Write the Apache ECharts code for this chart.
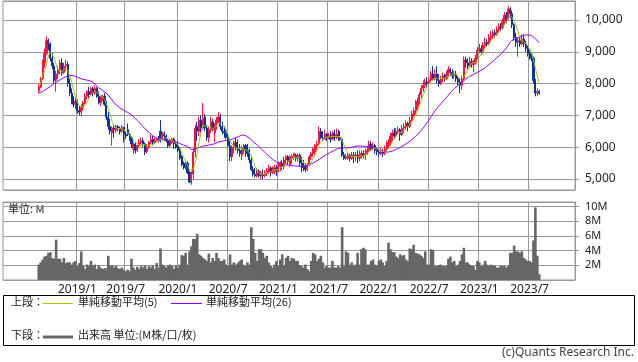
<!DOCTYPE html>
<html><head><meta charset="utf-8">
<script src="https://cdn.jsdelivr.net/npm/echarts@6/dist/echarts.min.js"></script>
<style>html,body{margin:0;padding:0;background:#fff}#c{width:638px;height:362px}</style>
</head><body><div id="c"></div>
<script>
// weekly bars, first week (Monday) and padding of empty weeks on both sides of the axis
const firstWeek = '2018-08-20';
const padBefore = 18, padAfter = 18;
const tickLabels = ['2019/1','2019/7','2020/1','2020/7','2021/1','2021/7','2022/1','2022/7','2023/1','2023/7'];

const opens = [
7780,7900,8150,8650,8950,9350,9250,8800,8550,8100,
8300,8450,8650,8350,8550,8600,8000,7700,7450,7350,
7450,7150,7100,7250,7400,7600,7750,7650,7850,7700,
7850,7600,7400,7550,7600,7350,6950,6650,6450,6600,
6550,6650,6600,6500,6620,6400,6550,6400,6300,5950,
6100,5900,6050,6150,6200,6100,5850,6000,6150,6250,
6150,6200,6250,6500,6250,6420,6350,6200,6050,6150,
6250,6100,6050,5950,5700,5500,5350,5500,5200,4950,
5150,5850,6650,6500,6850,6600,6950,6600,6300,6550,
6800,6450,6700,6850,6950,6650,6500,6450,6300,6050,
5700,6000,6150,5950,5900,5750,5950,6050,5900,5800,
5600,5300,5150,5100,5250,5100,5150,5100,5200,5200,
5350,5200,5300,5350,5250,5400,5500,5400,5600,5700,
5450,5650,5700,5750,5650,5750,5500,5400,5350,5300,
5450,5700,5800,5850,6050,6100,6500,6300,6250,6400,
6300,6350,6250,6450,6300,6400,6300,6250,5750,5650,
5650,5750,5650,5750,5700,5750,5650,5700,5800,5750,
5800,5900,6100,5950,6050,5900,5850,5800,5850,5800,
5950,6050,6150,6350,6450,6350,6500,6550,6400,6600,
6650,6750,6650,6850,7000,7150,7300,7450,7650,7850,
7950,8050,8000,8100,8300,8150,8300,8100,8000,8150,
8250,8150,8300,8450,8350,8250,8300,8150,8050,7950,
8150,8750,8650,8550,8700,8600,8650,8800,9050,9100,
9000,9200,9300,9250,9450,9500,9600,9550,9700,9800,
9750,9950,10150,10050,10350,10200,9850,9450,9300,9350,
9250,9400,9250,9100,8950,8850,8800,8100,7700,7750];
const closes = [
7900,8150,8650,8950,9350,9250,8800,8550,8100,8300,
8450,8650,8350,8550,8600,8000,7700,7450,7350,7450,
7150,7100,7250,7400,7600,7750,7650,7850,7700,7850,
7600,7400,7550,7600,7350,6950,6650,6500,6600,6550,
6650,6600,6500,6620,6400,6350,6400,6300,6100,6100,
5900,6050,6150,6200,6100,5850,6000,6150,6250,6150,
6200,6250,6200,6300,6420,6350,6200,6050,6200,6250,
6100,6000,5900,5650,5450,5350,5500,5200,4900,5150,
5850,6600,6500,6850,6600,6900,6600,6300,6550,6800,
6550,6700,6850,6950,6650,6500,6450,6300,6050,5700,
6000,6150,5950,5900,5800,5950,6050,5900,5800,5600,
5300,5150,5100,5250,5100,5200,5100,5200,5250,5350,
5200,5300,5350,5250,5400,5500,5400,5600,5700,5550,
5700,5720,5800,5650,5750,5500,5400,5350,5300,5450,
5700,5800,5950,6050,6100,6500,6300,6250,6400,6300,
6350,6250,6400,6300,6400,6300,6250,5750,5650,5700,
5750,5650,5750,5700,5750,5650,5700,5800,5750,5800,
5900,6100,5950,6050,5900,5850,5800,5850,5800,5950,
6050,6150,6350,6450,6350,6500,6550,6400,6600,6650,
6750,6650,6850,7050,7150,7300,7450,7650,7850,7950,
8050,8000,8100,8300,8150,8300,8100,8000,8150,8250,
8150,8300,8450,8350,8250,8300,8150,8050,7950,8150,
8750,8650,8550,8700,8600,8650,8800,9050,9100,9000,
9200,9300,9250,9450,9500,9600,9550,9700,9800,9750,
9950,10150,10050,10350,10200,9850,9450,9300,9350,9250,
9400,9250,9100,8950,8850,8800,8100,7700,7750,7700];
const lows = [
7700,7850,8100,8500,8900,9050,8700,8450,8000,7750,
8150,8300,8250,8300,8400,7900,7600,7350,7250,7200,
7050,7000,6980,7150,7350,7500,7550,7600,7600,7650,
7550,7350,7300,7450,7300,6850,6550,6400,6050,6300,
6450,6500,6400,6450,6150,6250,6350,6200,5980,5780,
5800,5850,6000,6050,6000,5750,5800,5950,6100,6050,
6100,6150,6150,6150,6200,6200,6150,5980,6000,6100,
5950,5950,5850,5600,5400,5300,5300,5150,4870,4820,
5000,5700,6200,6350,6450,6550,6500,6200,6150,6450,
6500,6150,6550,6750,6550,6400,6300,6250,6000,5560,
5560,5800,5900,5800,5700,5600,5800,5700,5700,5500,
5250,5080,5050,5050,5050,5000,4980,5050,5100,5150,
5080,5150,5150,5100,5200,5250,5300,5300,5450,5450,
5380,5480,5600,5550,5550,5400,5220,5250,5220,5250,
5400,5600,5700,5750,5850,6050,6250,6200,6250,6200,
6250,6150,6250,6200,6250,6200,6200,5700,5600,5600,
5600,5550,5600,5500,5550,5500,5550,5650,5650,5600,
5750,5850,5900,5900,5800,5750,5700,5750,5700,5750,
5900,5950,6050,6200,6250,6300,6400,6200,6350,6450,
6550,6500,6600,6800,6950,7050,7150,7350,7550,7750,
7850,7900,7950,8050,8100,8100,8000,7900,7950,8050,
8050,8100,8200,8250,8150,8150,8050,7950,7700,7800,
8100,8500,8450,8500,8500,8350,8600,8750,8950,8900,
8950,9100,9150,9200,9350,9400,9450,9500,9600,9650,
9700,9850,9900,10000,10050,9750,9350,9150,8850,9150,
9200,9150,9000,8850,8750,8700,8000,7600,7600,7650];
const highs = [
7980,8200,8750,9100,9480,9420,9300,8950,8650,8400,
8550,8750,8800,8650,8750,8700,8150,7850,7600,7550,
7500,7300,7350,7450,7700,7800,7900,7900,7900,7950,
7900,7750,7600,7650,7700,7450,7100,6900,6650,6700,
6700,6700,6650,6700,6650,6500,6750,6450,6350,6150,
6150,6100,6250,6300,6300,6150,6100,6200,6400,6350,
6300,6300,6350,6850,6480,6500,6400,6250,6250,6300,
6300,6200,6200,6000,5750,5550,5550,5550,5250,5250,
5950,6700,6800,6950,7000,7390,7050,6700,6650,6950,
6900,6750,6950,7100,7050,6800,6650,6550,6450,6200,
6050,6200,6300,6250,6100,6050,6100,6100,6100,5950,
5700,5400,5350,5350,5300,5250,5300,5280,5350,5450,
5400,5400,5450,5450,5500,5550,5600,5700,5750,5750,
5750,5780,5820,5800,5800,5800,5700,5600,5500,5500,
5750,5850,6000,6100,6200,6650,6600,6500,6550,6450,
6450,6500,6500,6550,6580,6550,6500,6300,5850,5800,
5800,5800,5850,5850,5850,5900,5900,5900,5900,5950,
6050,6200,6200,6150,6100,6000,5950,6000,5950,6050,
6200,6250,6450,6550,6600,6600,6650,6600,6700,6750,
6850,6800,6950,7150,7250,7480,7550,7750,7950,8100,
8150,8200,8200,8400,8550,8450,8550,8300,8250,8350,
8300,8400,8550,8500,8450,8400,8400,8250,8150,8250,
8850,8850,8800,8850,8800,8750,8900,9150,9250,9200,
9300,9450,9400,9550,9650,9700,9700,9800,9900,9900,
10050,10250,10250,10440,10400,10300,9900,9600,9450,9500,
9550,9550,9350,9200,9050,9000,8850,8150,7850,7800];
// volume in millions
const volumes = [
2.1,2.4,2.8,3.2,3.3,3.7,3.8,3.0,2.9,5.5,
2.9,2.9,2.4,3.0,2.3,2.4,2.4,2.1,2.4,2.6,
1.9,2.3,3.9,2.0,1.5,2.1,1.9,2.6,1.9,2.1,
1.5,2.0,1.7,1.5,1.6,1.6,3.3,1.9,2.0,1.7,
1.9,1.6,1.5,1.7,1.4,1.2,1.4,1.2,2.9,1.7,
1.4,1.8,1.5,1.9,1.7,2.0,1.5,1.9,1.7,2.0,
1.5,2.3,1.7,4.3,2.1,1.9,1.7,2.0,2.1,1.9,
1.5,2.0,1.7,2.1,3.4,3.3,3.7,2.1,3.9,4.6,
5.6,5.6,6.3,3.5,3.3,3.0,2.8,2.6,3.6,2.4,
3.0,2.6,3.7,3.0,2.6,2.6,2.8,2.1,1.9,3.5,
2.1,2.4,2.1,2.3,2.6,2.8,2.1,1.9,2.4,2.1,
7.2,5.6,3.7,2.6,4.2,4.2,3.7,3.0,3.3,2.4,
1.9,1.7,2.1,2.6,1.9,2.8,3.5,2.0,3.0,3.3,
2.6,3.0,2.9,2.6,2.6,2.0,1.9,1.7,2.1,1.5,
1.2,2.6,3.7,3.5,2.6,2.9,3.3,2.4,1.7,1.9,
1.7,1.7,2.6,1.7,1.7,1.9,1.7,7.2,1.9,3.9,
3.7,2.1,2.4,1.9,2.1,3.7,2.1,4.2,4.4,4.2,
2.1,2.1,2.6,2.8,2.1,1.9,2.6,2.8,2.4,1.9,
2.6,5.1,4.2,3.8,3.8,3.2,3.0,3.5,3.3,3.4,
2.8,2.6,4.3,4.2,4.8,3.7,3.6,3.5,3.3,3.0,
3.9,2.1,2.1,4.2,4.1,1.9,1.9,2.0,2.1,1.9,
1.9,1.9,2.9,3.2,2.4,2.6,1.9,2.1,2.6,3.5,
4.4,2.4,2.4,2.1,1.9,1.9,1.4,2.6,2.4,1.9,
2.1,2.6,2.1,1.9,2.1,1.9,2.0,1.7,1.7,1.9,
1.9,1.9,1.7,1.9,3.7,3.7,4.7,3.9,3.9,3.7,
3.9,3.0,2.8,2.6,2.6,2.4,5.4,9.9,3.3,0.8];
// 26-week average for the first weeks (earlier history not shown)
const ma26Lead = [7710,7720,7750,7790,7830,7870,7910,7960,8000,8040,8080,8120,8150,8180,8220,8250,8260,8260,8250,8230,8200,8180,8150,8130,8120];

const n = closes.length;
const N = padBefore + n + padAfter;
const start = new Date(firstWeek + 'T00:00:00Z');
start.setUTCDate(start.getUTCDate() - 7 * padBefore);
const cats = [], labelAt = {};
let prevMonth = null;
for (let k = 0; k < N; k++) {
  const d = new Date(start.getTime() + k * 7 * 86400000);
  const y = d.getUTCFullYear(), m = d.getUTCMonth() + 1;
  cats.push(y + '-' + m + '-' + d.getUTCDate());
  if (prevMonth !== null && m !== prevMonth) {
    const lab = y + '/' + m;
    if (tickLabels.indexOf(lab) >= 0) labelAt[k] = lab;
  }
  prevMonth = m;
}
const pad = (arr) => { const out = []; for (let k = 0; k < N; k++) { const i = k - padBefore; out.push(i >= 0 && i < n ? arr[i] : '-'); } return out; };

const candle = [], ma5 = [], ma26 = [];
for (let i = 0; i < n; i++) {
  candle.push([opens[i], closes[i], lows[i], highs[i]]);
  let s = 0, c = 0;
  for (let j = Math.max(0, i - 4); j <= i; j++) { s += closes[j]; c++; }
  ma5.push(Math.round(s / c));
  if (i < 25) ma26.push(ma26Lead[i]);
  else { let t = 0; for (let j = i - 25; j <= i; j++) t += closes[j]; ma26.push(Math.round(t / 26)); }
}

const isTick = (idx) => labelAt[idx] !== undefined;
const gridCol = '#999';
const font = '"Noto Sans", "DejaVu Sans", sans-serif';
const jp = '"Noto Sans CJK JP", sans-serif';

const xBase = (gi, showLabels) => ({
  type: 'category', gridIndex: gi, data: cats, boundaryGap: true,
  axisLine: { show: false }, axisTick: { show: false },
  axisLabel: { show: showLabels, interval: (i) => isTick(i), formatter: (v, i) => labelAt[i] || '',
    color: '#222', fontSize: 12, fontFamily: font, margin: 4 },
  splitLine: { show: true, interval: (i) => isTick(i), lineStyle: { color: gridCol, width: 1 } }
});

const chart = echarts.init(document.getElementById('c'), null, { renderer: 'canvas' });
chart.setOption({
  animation: false,
  backgroundColor: '#fff',
  grid: [
    { left: 3, right: 63, top: 1, height: 189, show: true, borderColor: gridCol, borderWidth: 1 },
    { left: 3, right: 63, top: 202, height: 78, show: true, borderColor: gridCol, borderWidth: 1 }
  ],
  xAxis: [xBase(0, false), xBase(1, true)],
  yAxis: [
    { type: 'value', gridIndex: 0, position: 'right', min: 4654, max: 10598, splitNumber: 5,
      axisLine: { show: true, lineStyle: { color: gridCol } },
      axisTick: { show: true, length: 4, lineStyle: { color: gridCol } },
      axisLabel: { color: '#222', fontSize: 12, fontFamily: font, margin: 10, showMinLabel: false, showMaxLabel: false,
        formatter: (v) => (v % 1000 === 0 ? v.toLocaleString('en-US') : '') },
      splitLine: { show: true, lineStyle: { color: gridCol } } },
    { type: 'value', gridIndex: 1, position: 'right', min: 0, max: 10.64, splitNumber: 5,
      axisLine: { show: true, lineStyle: { color: gridCol } },
      axisTick: { show: true, length: 4, lineStyle: { color: gridCol } },
      axisLabel: { color: '#222', fontSize: 11, fontFamily: font, margin: 10, showMinLabel: false, showMaxLabel: false,
        formatter: (v) => (v > 0 && Math.abs(v - Math.round(v)) < 1e-6 && Math.round(v) % 2 === 0 ? Math.round(v) + 'M' : '') },
      splitLine: { show: true, lineStyle: { color: gridCol } } }
  ],
  series: [
    { type: 'candlestick', xAxisIndex: 0, yAxisIndex: 0, data: pad(candle), barWidth: 1.6,
      itemStyle: { color: '#ff1040', color0: '#0a3399', borderColor: '#ff1040', borderColor0: '#0a3399', borderWidth: 1 } },
    { type: 'line', xAxisIndex: 0, yAxisIndex: 0, data: pad(ma26), symbol: 'none', lineStyle: { color: '#9900ff', width: 1 } },
    { type: 'line', xAxisIndex: 0, yAxisIndex: 0, data: pad(ma5), symbol: 'none', lineStyle: { color: '#99cc00', width: 1 } },
    { type: 'bar', xAxisIndex: 1, yAxisIndex: 1, data: pad(volumes), barWidth: 2.6, itemStyle: { color: '#666666' } }
  ],
  graphic: [
    { type: 'text', left: 8, top: 203, style: { text: '単位: M', font: '11px ' + jp, fill: '#222' } },
    { type: 'rect', shape: { x: 3.5, y: 295.5, width: 631, height: 50 }, style: { fill: 'none', stroke: '#000', lineWidth: 1 } },
    { type: 'text', left: 11, top: 296, style: { text: '上段：', font: '11px ' + jp, fill: '#222' } },
    { type: 'line', shape: { x1: 43, y1: 303.5, x2: 73, y2: 303.5 }, style: { stroke: '#99cc00', lineWidth: 1 } },
    { type: 'text', left: 78, top: 296, style: { text: '単純移動平均(5)', font: '11px ' + jp, fill: '#222' } },
    { type: 'line', shape: { x1: 171, y1: 303.5, x2: 202, y2: 303.5 }, style: { stroke: '#9900ff', lineWidth: 1 } },
    { type: 'text', left: 206, top: 296, style: { text: '単純移動平均(26)', font: '11px ' + jp, fill: '#222' } },
    { type: 'text', left: 11, top: 329, style: { text: '下段：', font: '11px ' + jp, fill: '#222' } },
    { type: 'line', shape: { x1: 43, y1: 337, x2: 73, y2: 337 }, style: { stroke: '#666', lineWidth: 3 } },
    { type: 'text', left: 78, top: 329, style: { text: '出来高 単位:(M株/口/枚)', font: '11px ' + jp, fill: '#222' } },
    { type: 'text', right: 4, top: 347, style: { text: '(c)Quants Research Inc.', font: '12px ' + font, fill: '#444' } }
  ]
});
</script></body></html>
